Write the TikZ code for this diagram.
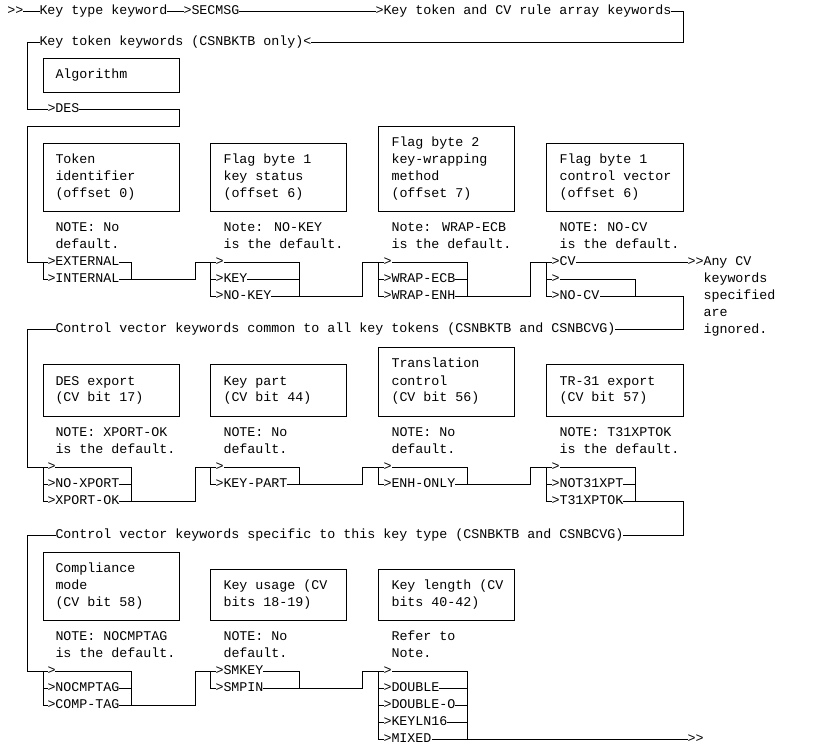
\documentclass[tikz,border=0pt]{standalone}
\usepackage{fontspec}
\newfontfamily\monof{Liberation Mono}
\begin{document}
\begin{tikzpicture}[x=1pt,y=-1pt,line width=1pt,
  txt/.style={anchor=west,inner sep=0pt,fill=white,font=\monof\fontsize{13.33}{17}\selectfont,text height=9pt,text depth=3pt},
  ln/.style={draw=black}]
\useasboundingbox[fill=white] (0,0) rectangle (817,751);
% ---- top lines
\draw[ln] (23,12)--(683,12)--(683,43)--(27,43)--(27,110)--(179,110)--(179,127)--(27,127)--(27,263)--(43,263);
\node[txt] (s1) at (7,12) {>>};
\node[txt] (s2) at (39,12) {Key type keyword};
\node[txt] (s3) at (183,12) {>SECMSG};
\node[txt] (s4) at (375,12) {>Key token and CV rule array keywords};
\node[txt] (s5) at (39,43) {Key token keywords (CSNBKTB only)<};
\draw[ln] (43,59) rectangle (179,93);
\node[txt] (alg) at (55,76) {Algorithm};
\node[txt] (des) at (47,110) {>DES};
% ---- row 2 boxes
\draw[ln] (43,144) rectangle (179,212);
\draw[ln] (210,144) rectangle (346,212);
\draw[ln] (378,127) rectangle (514,212);
\draw[ln] (546,144) rectangle (683,212);
\foreach \t [count=\i] in {Token,identifier,(offset 0)} \node[txt] at (55,144+17*\i) {\t};
\foreach \t [count=\i] in {Flag byte 1,key status,(offset 6)} \node[txt] at (223,144+17*\i) {\t};
\foreach \t [count=\i] in {Flag byte 2,key-wrapping,method,(offset 7)} \node[txt] at (391,127+17*\i) {\t};
\foreach \t [count=\i] in {Flag byte 1,control vector,(offset 6)} \node[txt] at (559,144+17*\i) {\t};
\node[txt] at (55,229) {NOTE: No}; \node[txt] at (55,246) {default.};
\node[txt] at (223,229) {Note: NO-KEY}; \node[txt] at (223,246) {is the default.};
\node[txt] at (391,229) {Note: WRAP-ECB}; \node[txt] at (391,246) {is the default.};
\node[txt] at (559,229) {NOTE: NO-CV}; \node[txt] at (559,246) {is the default.};
% ---- row 3 options
\draw[ln] (43,263)--(43,280) (43,263)--(131,263)--(131,280)
  (43,280)--(195,280)--(195,263)--(210,263)--(210,297);
\draw[ln] (210,263)--(299,263)--(299,297) (210,280)--(299,280)
  (210,297)--(362,297)--(362,263)--(378,263)--(378,297);
\draw[ln] (378,263)--(467,263)--(467,297) (378,280)--(467,280)
  (378,297)--(530,297)--(530,263)--(546,263)--(546,297);
\draw[ln] (546,263)--(688,263) (546,280)--(635,280)--(635,297)
  (546,297)--(683,297)--(683,330)--(27,330)--(27,467)--(43,467);
\node[txt] at (47,263) {>EXTERNAL}; \node[txt] at (47,280) {>INTERNAL};
\node[txt] at (215,263) {>}; \node[txt] at (215,280) {>KEY}; \node[txt] at (215,297) {>NO-KEY};
\node[txt] at (383,263) {>}; \node[txt] at (383,280) {>WRAP-ECB}; \node[txt] at (383,297) {>WRAP-ENH};
\node[txt] at (551,263) {>CV}; \node[txt] at (551,280) {>}; \node[txt] at (551,297) {>NO-CV};
\node[txt] at (687,263) {>>Any CV};
\foreach \t [count=\i] in {keywords,specified,are,ignored.} \node[txt] at (703,263+16.8*\i) {\t};
\node[txt] at (55,330) {Control vector keywords common to all key tokens (CSNBKTB and CSNBCVG)};
% ---- row 4 boxes
\draw[ln] (43,365) rectangle (179,416);
\draw[ln] (210,365) rectangle (346,416);
\draw[ln] (378,348) rectangle (514,416);
\draw[ln] (546,365) rectangle (683,416);
\node[txt] at (55,382) {DES export}; \node[txt] at (55,399) {(CV bit 17)};
\node[txt] at (223,382) {Key part}; \node[txt] at (223,399) {(CV bit 44)};
\node[txt] at (391,365) {Translation}; \node[txt] at (391,382) {control}; \node[txt] at (391,399) {(CV bit 56)};
\node[txt] at (559,382) {TR-31 export}; \node[txt] at (559,399) {(CV bit 57)};
\node[txt] at (55,433) {NOTE: XPORT-OK}; \node[txt] at (55,450) {is the default.};
\node[txt] at (223,433) {NOTE: No}; \node[txt] at (223,450) {default.};
\node[txt] at (391,433) {NOTE: No}; \node[txt] at (391,450) {default.};
\node[txt] at (559,433) {NOTE: T31XPTOK}; \node[txt] at (559,450) {is the default.};
% ---- row 5 options
\draw[ln] (43,467)--(43,501) (43,467)--(131,467)--(131,501) (43,484)--(131,484)
  (43,501)--(195,501)--(195,467)--(210,467)--(210,484);
\draw[ln] (210,467)--(299,467)--(299,484)
  (210,484)--(362,484)--(362,467)--(378,467)--(378,484);
\draw[ln] (378,467)--(467,467)--(467,484)
  (378,484)--(530,484)--(530,467)--(546,467)--(546,501);
\draw[ln] (546,467)--(635,467)--(635,501) (546,484)--(635,484)
  (546,501)--(683,501)--(683,535)--(27,535)--(27,671)--(43,671);
\node[txt] at (47,467) {>}; \node[txt] at (47,484) {>NO-XPORT}; \node[txt] at (47,501) {>XPORT-OK};
\node[txt] at (215,467) {>}; \node[txt] at (215,484) {>KEY-PART};
\node[txt] at (383,467) {>}; \node[txt] at (383,484) {>ENH-ONLY};
\node[txt] at (551,467) {>}; \node[txt] at (551,484) {>NOT31XPT}; \node[txt] at (551,501) {>T31XPTOK};
\node[txt] at (55,535) {Control vector keywords specific to this key type (CSNBKTB and CSNBCVG)};
% ---- row 6 boxes
\draw[ln] (43,552) rectangle (179,620);
\draw[ln] (210,569) rectangle (346,620);
\draw[ln] (378,569) rectangle (514,620);
\node[txt] at (55,569) {Compliance}; \node[txt] at (55,586) {mode}; \node[txt] at (55,603) {(CV bit 58)};
\node[txt] at (223,586) {Key usage (CV}; \node[txt] at (223,603) {bits 18-19)};
\node[txt] at (391,586) {Key length (CV}; \node[txt] at (391,603) {bits 40-42)};
\node[txt] at (55,637) {NOTE: NOCMPTAG}; \node[txt] at (55,654) {is the default.};
\node[txt] at (223,637) {NOTE: No}; \node[txt] at (223,654) {default.};
\node[txt] at (391,637) {Refer to}; \node[txt] at (391,654) {Note.};
% ---- row 7 options
\draw[ln] (43,671)--(43,705) (43,671)--(131,671)--(131,705) (43,688)--(131,688)
  (43,705)--(195,705)--(195,671)--(210,671)--(210,688);
\draw[ln] (210,671)--(299,671)--(299,688)
  (210,688)--(362,688)--(362,671)--(378,671)--(378,739);
\draw[ln] (378,671)--(467,671)--(467,739) (378,688)--(467,688) (378,705)--(467,705)
  (378,722)--(467,722) (378,739)--(690,739);
\node[txt] at (47,671) {>}; \node[txt] at (47,688) {>NOCMPTAG}; \node[txt] at (47,705) {>COMP-TAG};
\node[txt] at (215,671) {>SMKEY}; \node[txt] at (215,688) {>SMPIN};
\node[txt] at (383,671) {>}; \node[txt] at (383,688) {>DOUBLE}; \node[txt] at (383,705) {>DOUBLE-O};
\node[txt] at (383,722) {>KEYLN16}; \node[txt] at (383,739) {>MIXED};
\node[txt] (endm) at (687,739) {>>};
\end{tikzpicture}
\end{document}
